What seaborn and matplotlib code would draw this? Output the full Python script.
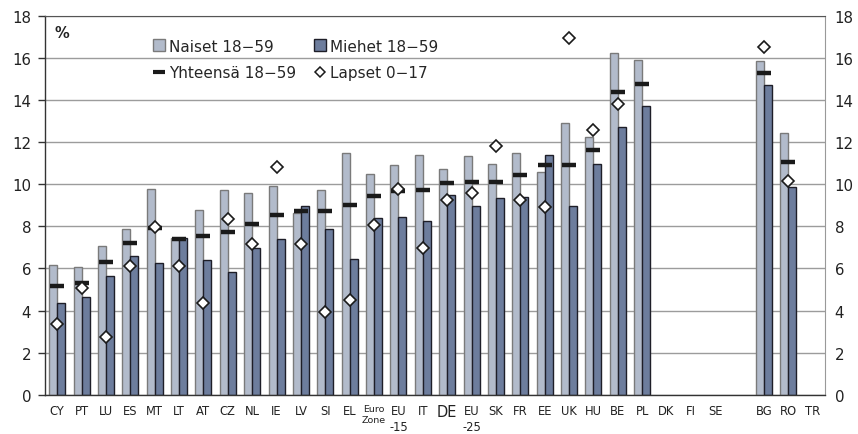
import numpy as np
import pandas as pd
import matplotlib
matplotlib.use("Agg")
import matplotlib.pyplot as plt
from matplotlib.lines import Line2D
import seaborn as sns

nan = np.nan
maat = ['CY', 'PT', 'LU', 'ES', 'MT', 'LT', 'AT', 'CZ', 'NL', 'IE', 'LV', 'SI', 'EL',
        'EZ', 'EU15', 'IT', 'DE', 'EU25', 'SK', 'FR', 'EE', 'UK', 'HU', 'BE', 'PL',
        'DK', 'FI', 'SE', '_', 'BG', 'RO', 'TR']
tick_labels = ['CY', 'PT', 'LU', 'ES', 'MT', 'LT', 'AT', 'CZ', 'NL', 'IE', 'LV', 'SI', 'EL',
               'Euro\nZone', 'EU\n-15', 'IT', 'DE', 'EU\n-25', 'SK', 'FR', 'EE', 'UK', 'HU',
               'BE', 'PL', 'DK', 'FI', 'SE', '', 'BG', 'RO', 'TR']

naiset = [6.18, 6.07, 7.05, 7.86, 9.78, 7.46, 8.78, 9.75, 9.59, 9.92, 8.65, 9.72, 11.5,
          10.5, 10.9, 11.38, 10.74, 11.35, 10.98, 11.5, 10.59, 12.92, 12.25, 16.25, 15.9,
          nan, nan, nan, nan, 15.84, 12.44, nan]
miehet = [4.38, 4.65, 5.65, 6.59, 6.26, 7.46, 6.38, 5.84, 6.98, 7.4, 8.98, 7.86, 6.45,
          8.38, 8.45, 8.26, 9.51, 8.95, 9.37, 9.38, 11.38, 8.95, 10.95, 12.71, 13.71,
          nan, nan, nan, nan, 14.71, 9.86, nan]
yhteensa = [5.19, 5.32, 6.33, 7.19, 7.92, 7.4, 7.52, 7.73, 8.13, 8.52, 8.75, 8.73, 9.0,
            9.46, 9.67, 9.73, 10.07, 10.13, 10.13, 10.46, 10.94, 10.94, 11.62, 14.4, 14.79,
            nan, nan, nan, nan, 15.27, 11.06, nan]
lapset = [3.37, 5.08, 2.76, 6.1, 7.97, 6.1, 4.37, 8.37, 7.16, 10.83, 7.16, 3.95, 4.48,
          8.08, 9.8, 6.97, 9.27, 9.6, 11.83, 9.26, 8.92, 16.95, 12.57, 13.82, nan,
          nan, nan, nan, nan, 16.55, 10.16, nan]

sarjat = ['Naiset 18\u221259', 'Miehet 18\u221259']
light = '#B2BBCB'
dark = '#6D7D9D'

bars = pd.DataFrame({
    'maa': maat * 2,
    'arvo': naiset + miehet,
    'sarja': [sarjat[0]] * len(maat) + [sarjat[1]] * len(maat),
})

sns.set_style("white")
plt.rcParams['font.family'] = ['DejaVu Sans']

fig = plt.figure(figsize=(8.58, 4.35), dpi=100)
ax = fig.add_axes([45 / 858, 1 - 395.7 / 435, 780 / 858, 378.7 / 435])

sns.barplot(data=bars, x='maa', y='arvo', hue='sarja', order=maat, hue_order=sarjat,
            palette=[light, dark], width=0.66, saturation=1, legend=False, ax=ax,
            errorbar=None, zorder=2)
for bc, ec in zip(ax.containers, ['#7a7a7a', '#1e1e28']):
    for p in bc:
        p.set_edgecolor(ec)
        p.set_linewidth(1.0)

n = len(maat)
sns.pointplot(x=maat, y=yhteensa, order=maat, linestyle='none', marker='_',
              color='#1a1a1a', markersize=9.5, markeredgewidth=3.2, errorbar=None,
              ax=ax, zorder=4)
sns.pointplot(x=maat, y=lapset, order=maat, linestyle='none', marker='D',
              color='#1a1a1a', markerfacecolor='white', markeredgecolor='#1a1a1a',
              markersize=6, markeredgewidth=1.2, errorbar=None, ax=ax, zorder=5)

ax.set_xlim(-0.5, n - 0.5)
ax.set_ylim(0, 18)
ax.set_yticks(np.arange(0, 19, 2))
ax.yaxis.grid(True, color='#9c9c9c', linewidth=1.0)
ax.xaxis.grid(False)
ax.set_axisbelow(True)
ax.set_xlabel('')
ax.set_ylabel('')

ax.set_xticks(np.arange(n))
ax.set_xticklabels(tick_labels)
ax.set_xticks(np.arange(n + 1) - 0.5, minor=True)
ax.tick_params(axis='x', which='major', length=0, labelsize=8.3, pad=7, colors='#222222')
ax.tick_params(axis='x', which='minor', length=4, direction='out', color='#333333', width=1)
ax.tick_params(axis='y', which='major', length=5, direction='out', labelsize=10.8,
               color='#333333', width=1, labelcolor='#222222', pad=5)
for lab in ax.get_xticklabels():
    t = lab.get_text()
    if t == 'DE':
        lab.set_fontsize(10.5)
    elif t == 'Euro\nZone':
        lab.set_fontsize(6.8)
    elif t.startswith('EU'):
        lab.set_linespacing(1.3)

for s in ['left', 'bottom']:
    ax.spines[s].set_color('#333333')
    ax.spines[s].set_linewidth(1.0)
ax.spines['top'].set_color('#555555')
ax.spines['right'].set_color('#999999')

ax2 = ax.twinx()
ax2.set_ylim(0, 18)
ax2.set_yticks(np.arange(0, 19, 2))
ax2.tick_params(axis='y', length=0, labelsize=10.8, labelcolor='#222222', pad=7)
for s in ax2.spines.values():
    s.set_visible(False)

handles = [
    Line2D([], [], marker='s', linestyle='none', markersize=8, markerfacecolor=light,
           markeredgecolor='#7a7a7a'),
    Line2D([], [], marker='_', linestyle='none', markersize=9, markeredgewidth=3,
           color='#1a1a1a'),
    Line2D([], [], marker='s', linestyle='none', markersize=8, markerfacecolor=dark,
           markeredgecolor='#1e1e28'),
    Line2D([], [], marker='D', linestyle='none', markersize=5.5, markerfacecolor='white',
           markeredgecolor='#1a1a1a', markeredgewidth=1.1),
]
labels = [sarjat[0], 'Yhteens\u00e4 18\u221259', sarjat[1], 'Lapset 0\u221217']
fig.legend(handles, labels, loc='upper left', bbox_to_anchor=(146 / 858, 1 - 32 / 435),
           ncol=2, frameon=False, fontsize=11, handlelength=0.7, handletextpad=0.3,
           columnspacing=1.2, labelspacing=0.75, borderpad=0)

fig.text(55 / 858, 1 - 33 / 435, '%', fontsize=10.5, fontweight='bold', va='center',
         ha='left', color='#222222')

fig.savefig('out.png', dpi=100)
